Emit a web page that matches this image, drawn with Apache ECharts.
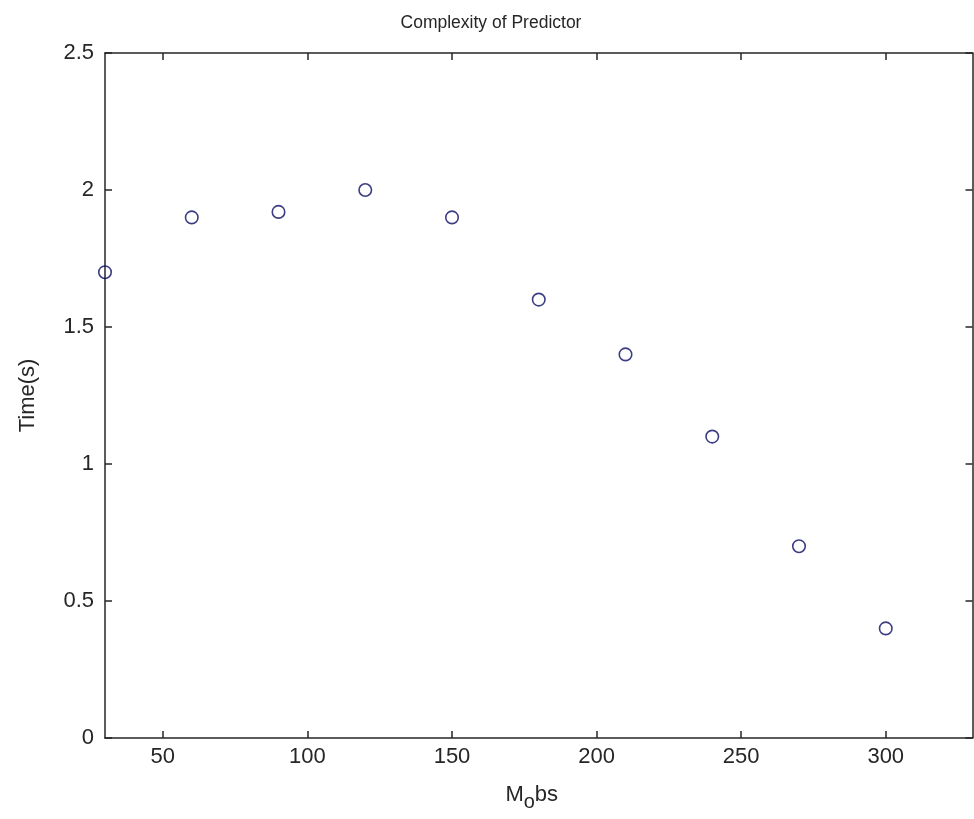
<!DOCTYPE html>
<html>
<head>
<meta charset="utf-8">
<script src="https://cdn.jsdelivr.net/npm/echarts@6/dist/echarts.min.js"></script>
<style>
html,body{margin:0;padding:0;background:#fff;}
#chart{width:974px;height:819px;}
</style>
</head>
<body>
<div id="chart"></div>
<script>
var mObs = [30, 60, 90, 120, 150, 180, 210, 240, 270, 300];
var timeS = [1.7, 1.9, 1.92, 2.0, 1.9, 1.6, 1.4, 1.1, 0.7, 0.4];
var xTicks = [50, 100, 150, 200, 250, 300];
var yTicks = [0, 0.5, 1, 1.5, 2, 2.5];

var font = 'Liberation Sans';
var axisColor = '#262626';
var textColor = '#262626';
var chart = echarts.init(document.getElementById('chart'), null, {renderer: 'canvas'});

function xAxisBase(pos, showLabel) {
  return {
    type: 'value', position: pos, min: 30, max: 330,
    axisLine: {show: true, onZero: false, lineStyle: {color: axisColor, width: 1.5}},
    axisTick: {show: true, inside: true, length: 7, customValues: xTicks, lineStyle: {color: axisColor, width: 1.5}},
    axisLabel: {show: showLabel, customValues: xTicks, fontFamily: font, fontSize: 22, color: textColor, margin: 8},
    splitLine: {show: false}
  };
}
function yAxisBase(pos, showLabel) {
  return {
    type: 'value', position: pos, min: 0, max: 2.5, interval: 0.5,
    axisLine: {show: true, onZero: false, lineStyle: {color: axisColor, width: 1.5}},
    axisTick: {show: true, inside: true, length: 7, lineStyle: {color: axisColor, width: 1.5}},
    axisLabel: {show: showLabel, fontFamily: font, fontSize: 22, color: textColor, margin: 11},
    splitLine: {show: false}
  };
}

var xa = xAxisBase('bottom', true);
xa.name = 'M{sub|o}bs';
xa.nameLocation = 'middle';
xa.nameGap = 40;
xa.nameTextStyle = {fontFamily: font, fontSize: 22, color: textColor, padding: [0, 14, 0, 0],
  rich: {sub: {fontFamily: font, fontSize: 20, color: textColor, verticalAlign: 'bottom', padding: [14, 0, 0, 0]}}};
var xt = xAxisBase('top', false);

var ya = yAxisBase('left', true);
ya.name = 'Time(s)';
ya.nameLocation = 'middle';
ya.nameGap = 66;
ya.nameTextStyle = {fontFamily: font, fontSize: 22, color: textColor};
var yr = yAxisBase('right', false);

chart.setOption({
  backgroundColor: '#fff',
  animation: false,
  title: {text: 'Complexity of Predictor', left: 486, textAlign: 'center', top: 9,
    textStyle: {fontFamily: font, fontSize: 17.5, fontWeight: 'normal', color: textColor}},
  grid: {left: 105, right: 1.5, top: 53, bottom: 81},
  xAxis: [xa, xt],
  yAxis: [ya, yr],
  series: [{
    type: 'scatter', xAxisIndex: 0, yAxisIndex: 0,
    data: mObs.map(function (x, i) { return [x, timeS[i]]; }),
    symbol: 'circle', symbolSize: 12.5,
    itemStyle: {color: 'rgba(0,0,0,0)', borderColor: '#0c0c66', borderWidth: 1.6},
    clip: false
  }]
});
</script>
</body>
</html>
